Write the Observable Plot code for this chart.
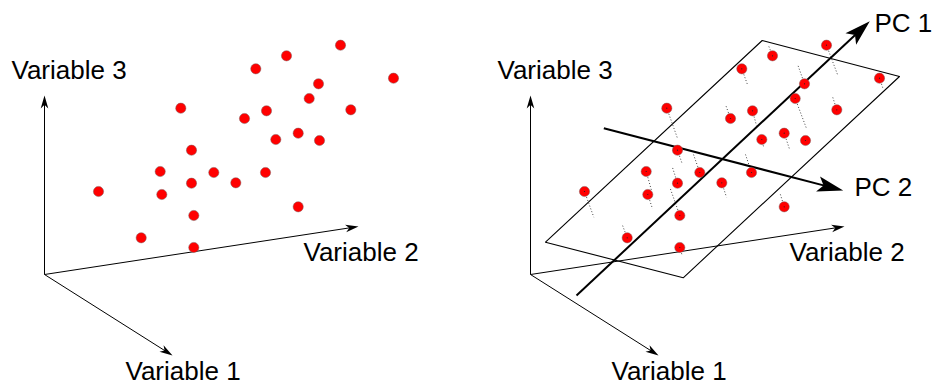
<!DOCTYPE html>
<html>
<head>
<meta charset="utf-8">
<script src="https://cdn.jsdelivr.net/npm/d3@7"></script>
<script src="https://cdn.jsdelivr.net/npm/@observablehq/plot@0.6"></script>
<style>
  html, body { margin: 0; padding: 0; background: #fff; }
  #wrap { display: flex; gap: 39px; width: 933px; height: 385px; }
  svg { display: block; }
</style>
</head>
<body>
<div id="wrap"></div>
<script>
const pointX = [340, 286, 255.3, 393, 318, 308.7, 180.3, 266, 350.3, 244, 297.7, 275.3, 319, 191, 159.7, 213.3, 265, 191, 235.3, 98, 161.3, 193.3, 297.7, 140.7, 193.3];
const pointY = [44.7, 55.3, 68.3, 77.7, 83.3, 98, 107.7, 110.3, 109.3, 118, 132.7, 139, 140, 149.7, 171, 172, 172, 182.7, 182.3, 191, 194, 215, 206.3, 237.3, 247];
// Where each sample lands on the PC plane (end of the dotted projection line)
const projX = [351, 282, 261.3, 396.5, 311.5, 320, 190.7, 270, 346, 239, 303.3, 277, 319, 195.7, 165, 207, 259, 186, 240, 107.3, 166, 183.3, 293.3, 135.7, 195.7];
const projY = [74, 45, 85, 88, 65, 128, 137, 125, 96, 104, 149.5, 146, 140, 163.3, 190, 154, 154, 167, 196.7, 216.7, 208.3, 186.7, 192, 224, 255];

// Variable axes: a common origin and the three arrow tips
const axisNames = ["Variable 3", "Variable 2", "Variable 1"];
const originXY = [44, 274];
const axisTipX = [44, 358, 172];
const axisTipY = [95, 226, 355];
const axisLabelX = [11, 303, 125];
const axisLabelY = [78, 260, 379.5];

// Plane of the first two principal components (corners)
const planeX = [275.7, 413, 196.7, 59, 275.7];
const planeY = [40, 76, 277.3, 241.7, 40];

// Principal component arrows
const pcNames = ["PC 1", "PC 2"];
const pcStartX = [90, 117.3];
const pcStartY = [295, 127.7];
const pcTipX = [383.3, 356.7];
const pcTipY = [20.7, 190];
const pcLabelX = [388, 368];
const pcLabelY = [31, 195];

const FONT = "'Liberation Sans', Arial, Helvetica, sans-serif";

// arrowhead polygon derived from a segment
function head(id, x1, y1, x2, y2, L, W, notch) {
  const dx = x2 - x1, dy = y2 - y1, len = Math.hypot(dx, dy);
  const ux = dx / len, uy = dy / len, nx = -uy, ny = ux;
  return [
    {id, x: x2, y: y2},
    {id, x: x2 - L * ux + W * nx, y: y2 - L * uy + W * ny},
    {id, x: x2 - notch * L * ux, y: y2 - notch * L * uy},
    {id, x: x2 - L * ux - W * nx, y: y2 - L * uy - W * ny},
    {id, x: x2, y: y2}
  ];
}

const points = pointX.map((x, i) => ({x, y: pointY[i], px: projX[i], py: projY[i]}));
const axes = axisNames.map((name, i) => ({
  name, x1: originXY[0], y1: originXY[1], x2: axisTipX[i], y2: axisTipY[i],
  lx: axisLabelX[i], ly: axisLabelY[i]
}));
const pcs = pcNames.map((name, i) => ({
  name, x1: pcStartX[i], y1: pcStartY[i], x2: pcTipX[i], y2: pcTipY[i],
  lx: pcLabelX[i], ly: pcLabelY[i]
}));
const plane = planeX.map((x, i) => ({x, y: planeY[i]}));

const axisHeads = axes.flatMap((a, i) => head("a" + i, a.x1, a.y1, a.x2, a.y2, 13, 3.8, 0.72));
const pcHeads = pcs.flatMap((a, i) => head("p" + i, a.x1, a.y1, a.x2, a.y2, 26, 7.8, 0.78));

function panel(withPCA) {
  const marks = [
    Plot.link(axes, {x1: "x1", y1: "y1", x2: d => d.x2 - (d.x2 - d.x1) * 0.03, y2: d => d.y2 - (d.y2 - d.y1) * 0.03, stroke: "#000", strokeWidth: 1}),
    Plot.line(axisHeads, {x: "x", y: "y", z: "id", fill: "#000", stroke: "none", curve: "linear"}),
    Plot.text(axes, {x: "lx", y: "ly", text: "name", textAnchor: "start", lineAnchor: "bottom", fontSize: 26, fill: "#000", fontFamily: FONT})
  ];
  if (withPCA) {
    marks.push(
      Plot.line(plane, {x: "x", y: "y", stroke: "#000", strokeWidth: 1.1, fill: "none"}),
      Plot.link(points, {x1: "x", y1: "y", x2: "px", y2: "py", stroke: "#444", strokeWidth: 1, strokeDasharray: "1,2"}),
      Plot.link(pcs, {x1: "x1", y1: "y1", x2: d => d.x2 - (d.x2 - d.x1) * 0.05, y2: d => d.y2 - (d.y2 - d.y1) * 0.05, stroke: "#000", strokeWidth: 2}),
      Plot.line(pcHeads, {x: "x", y: "y", z: "id", fill: "#000", stroke: "none", curve: "linear"}),
      Plot.text(pcs, {x: "lx", y: "ly", text: "name", textAnchor: "start", lineAnchor: "bottom", fontSize: 26, fill: "#000", fontFamily: FONT})
    );
  }
  marks.push(Plot.dot(points, {x: "x", y: "y", r: 5.1, fill: "#ff0000", stroke: "#7a5a5a", strokeWidth: 0.7, strokeOpacity: 0.7}));
  if (withPCA) {
    marks.push(Plot.dot(points, {x: "x", y: "y", r: 0.6, fill: "#222", stroke: "none"}));
  }
  return Plot.plot({
    width: 447,
    height: 385,
    margin: 0,
    x: {domain: [0, 447], range: [0, 447], axis: null},
    y: {domain: [0, 385], range: [0, 385], axis: null},
    style: {background: "#fff", overflow: "visible"},
    marks
  });
}

const wrap = document.getElementById("wrap");
wrap.appendChild(panel(false));
wrap.appendChild(panel(true));
</script>
</body>
</html>
